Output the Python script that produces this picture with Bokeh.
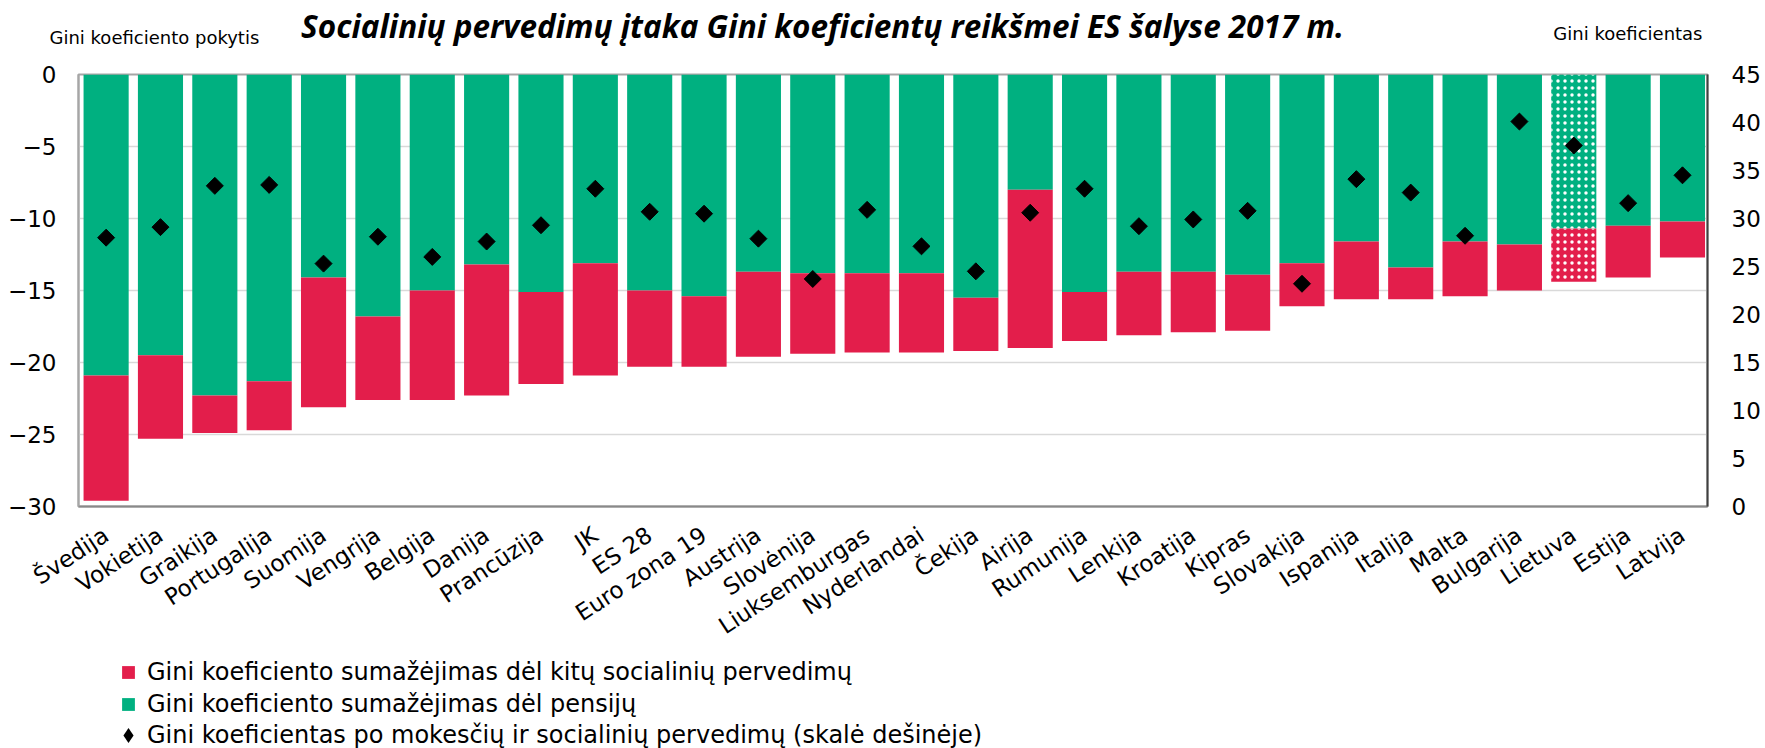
import math
from bokeh.plotting import figure
from bokeh.layouts import column
from bokeh.models import (Range1d, LinearAxis, FixedTicker, Label, Legend,
                          LegendItem, ColumnDataSource)
from bokeh.core.properties import field
from bokeh.embed import file_html
from bokeh.resources import INLINE

# ---------------- data ----------------
salys = ["Švedija", "Vokietija", "Graikija", "Portugalija", "Suomija", "Vengrija",
         "Belgija", "Danija", "Prancūzija", "JK", "ES 28", "Euro zona 19", "Austrija",
         "Slovėnija", "Liuksemburgas", "Nyderlandai", "Čekija", "Airija", "Rumunija",
         "Lenkija", "Kroatija", "Kipras", "Slovakija", "Ispanija", "Italija", "Malta",
         "Bulgarija", "Lietuva", "Estija", "Latvija"]
# Gini sumažėjimas dėl pensijų (žalia)
pensijos = [-20.9, -19.5, -22.3, -21.3, -14.1, -16.8, -15.0, -13.2, -15.1, -13.1,
            -15.0, -15.4, -13.7, -13.8, -13.8, -13.8, -15.5, -8.0, -15.1, -13.7,
            -13.7, -13.9, -13.1, -11.6, -13.4, -11.6, -11.8, -10.7, -10.5, -10.2]
# Gini sumažėjimas dėl kitų socialinių pervedimų (raudona)
kiti = [-8.7, -5.8, -2.6, -3.4, -9.0, -5.8, -7.6, -9.1, -6.4, -7.8,
        -5.3, -4.9, -5.9, -5.6, -5.5, -5.5, -3.7, -11.0, -3.4, -4.4,
        -4.2, -3.9, -3.0, -4.0, -2.2, -3.8, -3.2, -3.7, -3.6, -2.5]
# Gini koeficientas po mokesčių ir socialinių pervedimų (dešinė skalė)
gini = [28.0, 29.1, 33.4, 33.5, 25.3, 28.1, 26.0, 27.6, 29.3, 33.1,
        30.7, 30.5, 27.9, 23.7, 30.9, 27.1, 24.5, 30.6, 33.1, 29.2,
        29.9, 30.8, 23.2, 34.1, 32.7, 28.2, 40.1, 37.6, 31.6, 34.5]
kaire_ticks = [-30, -25, -20, -15, -10, -5, 0]
desine_ticks = [0, 5, 10, 15, 20, 25, 30, 35, 40, 45]
pazymeta = "Lietuva"

antraste = "Socialinių pervedimų įtaka Gini koeficientų reikšmei ES šalyse 2017 m."
kaire_pav = "Gini koeficiento pokytis"
desine_pav = "Gini koeficientas"
legendos = ["Gini koeficiento sumažėjimas dėl kitų socialinių pervedimų",
            "Gini koeficiento sumažėjimas dėl pensijų",
            "Gini koeficientas po mokesčių ir socialinių pervedimų (skalė dešinėje)"]

# ---------------- style ----------------
GREEN = "#00B080"
RED = "#E31E4B"
FONT = "DejaVu Sans"
W = 1765


def no_align(fig):
    if "frame_align" in fig.properties():
        fig.frame_align = False


n = len(salys)
xs = list(range(n))
src = ColumnDataSource(dict(
    x=xs,
    nulis=[0] * n,
    pens=pensijos,
    visa=[a + b for a, b in zip(pensijos, kiti)],
    gini=gini,
    rastas=["dot" if s == pazymeta else " " for s in salys],
))

# ---------------- header ----------------
HH = 56
hdr = figure(width=W, height=HH, output_backend="svg", toolbar_location=None,
             title=None, x_range=Range1d(0, W), y_range=Range1d(0, HH),
             x_axis_location=None, y_axis_location=None, min_border=0,
             outline_line_color=None, background_fill_color="white",
             border_fill_color="white")
no_align(hdr)
hdr.grid.visible = False
hdr.add_layout(Label(x=822, y=HH - 25, text=antraste, text_font="Open Sans",
                     text_font_size="31.5px", text_font_style="bold italic",
                     text_align="center", text_baseline="alphabetic", text_color="black"))
hdr.add_layout(Label(x=49, y=HH - 37, text=kaire_pav, text_font=FONT, text_font_size="18px",
                     text_align="left", text_baseline="alphabetic", text_color="black"))
hdr.add_layout(Label(x=1702, y=HH - 33, text=desine_pav, text_font=FONT, text_font_size="18px",
                     text_align="right", text_baseline="alphabetic", text_color="black"))

# ---------------- main chart ----------------
p = figure(frame_width=1629, frame_height=432, output_backend="svg", toolbar_location=None,
           title=None, x_range=Range1d(-0.508, 29.46), y_range=Range1d(-30, 0),
           min_border_left=78, min_border_right=58, min_border_top=74 - HH,
           min_border_bottom=150, background_fill_color="white",
           border_fill_color="white")
no_align(p)
p.outline_line_color = "#A6A6A6"
p.outline_line_width = 2
p.extra_y_ranges = {"gini": Range1d(0, 45)}

green = p.vbar(x="x", top="nulis", bottom="pens", width=0.83, source=src,
               fill_color=GREEN, line_color=None,
               hatch_pattern=field("rastas"), hatch_color="white",
               hatch_scale=7, hatch_weight=1)
red = p.vbar(x="x", top="pens", bottom="visa", width=0.83, source=src,
             fill_color=RED, line_color=None,
             hatch_pattern=field("rastas"), hatch_color="white",
             hatch_scale=7, hatch_weight=1)
dia = p.scatter(x="x", y="gini", y_range_name="gini", source=src,
                marker="square", angle=math.pi / 4, size=12,
                fill_color="black", line_color="black")

p.xgrid.visible = False
p.ygrid.ticker = FixedTicker(ticks=kaire_ticks)
p.ygrid.grid_line_color = "#D9D9D9"
p.ygrid.grid_line_width = 1.5

ly = p.yaxis[0]
ly.ticker = FixedTicker(ticks=kaire_ticks)
ly.major_label_overrides = {t: (("\u2212" + str(abs(t))) if t < 0 else str(t)) for t in kaire_ticks}

ry = LinearAxis(y_range_name="gini", ticker=FixedTicker(ticks=desine_ticks))
p.add_layout(ry, "right")

bx = p.xaxis[0]
bx.ticker = FixedTicker(ticks=xs)
bx.major_label_overrides = {i: s for i, s in zip(xs, salys)}
bx.major_label_orientation = 0.58

for ax in (ly, ry, bx):
    ax.major_tick_out = 0
    ax.major_tick_in = 0
    ax.minor_tick_out = 0
    ax.minor_tick_in = 0
    ax.major_tick_line_color = None
    ax.minor_tick_line_color = None
    ax.major_label_text_font = FONT
    ax.major_label_text_color = "black"
    ax.axis_line_width = 2

ly.axis_line_color = "#A6A6A6"
ly.major_label_text_font_size = "23px"
ly.major_label_standoff = 22
ry.axis_line_color = "#404040"
ry.major_label_text_font_size = "23px"
ry.major_label_standoff = 24
bx.axis_line_color = "#898989"
bx.major_label_text_font_size = "23px"
bx.major_label_standoff = 26

# ---------------- legend ----------------
LH = 92
lf = figure(width=W, height=LH, output_backend="svg", toolbar_location=None,
            title=None, x_range=Range1d(0, W), y_range=Range1d(0, LH),
            x_axis_location=None, y_axis_location=None, min_border=0,
            outline_line_color=None, background_fill_color="white",
            border_fill_color="white")
no_align(lf)
lf.grid.visible = False
# legend-only renderers (hidden in this strip), fed from the same data
r1 = lf.scatter(x="x", y="visa", source=src, marker="square",
                fill_color=RED, line_color=None, visible=False)
r2 = lf.scatter(x="x", y="pens", source=src, marker="square",
                fill_color=GREEN, line_color=None, visible=False)
r3 = lf.scatter(x="x", y="gini", source=src, marker="diamond",
                fill_color="black", line_color=None, visible=False)

common = dict(orientation="vertical", spacing=0, padding=0, margin=0,
              label_standoff=0, label_height=20, label_text_font=FONT,
              label_text_font_size="24px", label_text_color="black",
              background_fill_alpha=0, border_line_color=None)
legA = Legend(items=[LegendItem(label=legendos[0], renderers=[r1]),
                     LegendItem(label=legendos[1], renderers=[r2])],
              location=(109, 28), glyph_width=38, glyph_height=32, **common)
legB = Legend(items=[LegendItem(label=legendos[2], renderers=[r3])],
              location=(109, -6), glyph_width=38, glyph_height=38, **common)
lf.add_layout(legA)
lf.add_layout(legB)

layout = column(hdr, p, lf, spacing=0)
open("out.html", "w").write(file_html(layout, INLINE))
